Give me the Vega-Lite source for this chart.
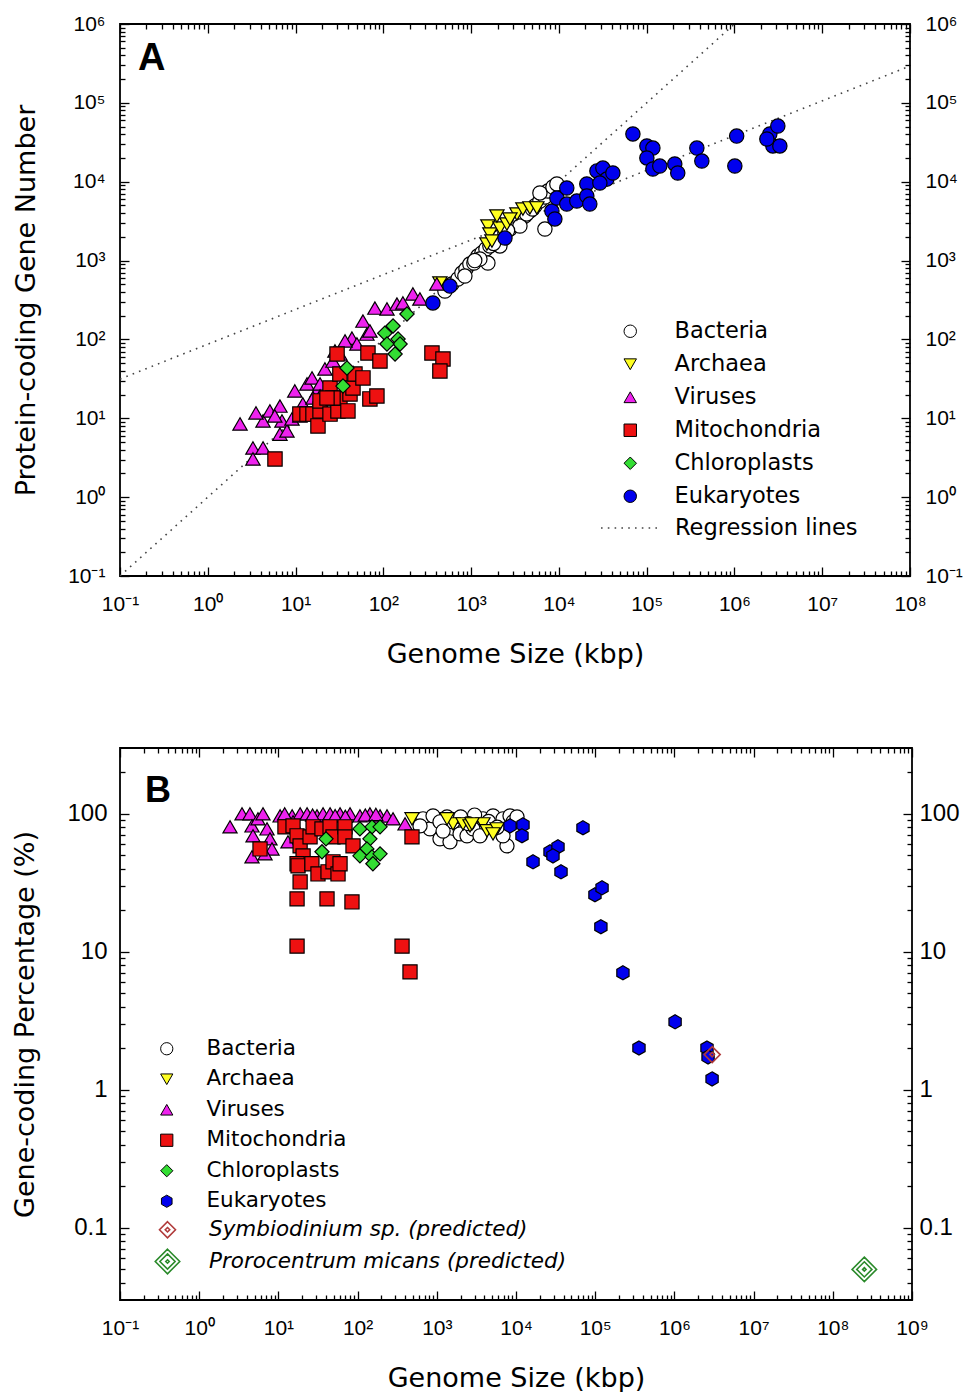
{
  "$schema": "https://vega.github.io/schema/vega-lite/v6.json",
  "background": "white",
  "padding": {"left": 11, "top": 12, "right": 0, "bottom": 0},
  "spacing": 78,
  "config": {
    "view": {"stroke": "black", "strokeWidth": 1.8},
    "axis": {
      "domain": false, "grid": false, "tickColor": "black", "tickWidth": 1.3,
      "labelColor": "black", "labelFont": "Liberation Sans", "labelFontSize": 21,
      "labelFlush": false, "labelOverlap": false, "labelBound": false,
      "titleFont": "DejaVu Sans", "titleFontSize": 27, "titleFontWeight": "normal", "titleColor": "black"
    },
    "legend": {"padding": 0, "labelColor": "black", "labelFont": "DejaVu Sans", "labelLimit": 0}
  },
  "resolve": {"scale": {"fill": "independent", "shape": "independent", "stroke": "independent", "size": "independent", "strokeDash": "independent"}},
  "datasets": {
    "regA": [
      {"line": "a", "kind": "Regression lines", "x": 0.1, "y": 31.5},
      {"line": "a", "kind": "Regression lines", "x": 100000000, "y": 293000},
      {"line": "b", "kind": "Regression lines", "x": 0.1, "y": 0.1},
      {"line": "b", "kind": "Regression lines", "x": 1000000, "y": 1000000}
    ],
    "ptsA": [
      {"g": "Bacteria", "x": 503, "y": 411}, {"g": "Bacteria", "x": 604, "y": 505}, {"g": "Bacteria", "x": 707, "y": 584},
      {"g": "Bacteria", "x": 786, "y": 695}, {"g": "Bacteria", "x": 873, "y": 781}, {"g": "Bacteria", "x": 968, "y": 904},
      {"g": "Bacteria", "x": 1076, "y": 931}, {"g": "Bacteria", "x": 1194, "y": 1142}, {"g": "Bacteria", "x": 1327, "y": 1248},
      {"g": "Bacteria", "x": 1474, "y": 1402}, {"g": "Bacteria", "x": 1637, "y": 1531}, {"g": "Bacteria", "x": 1916, "y": 1772},
      {"g": "Bacteria", "x": 2128, "y": 1991}, {"g": "Bacteria", "x": 2426, "y": 2235}, {"g": "Bacteria", "x": 2766, "y": 2512},
      {"g": "Bacteria", "x": 3155, "y": 2824}, {"g": "Bacteria", "x": 3597, "y": 3175}, {"g": "Bacteria", "x": 4100, "y": 3675},
      {"g": "Bacteria", "x": 4675, "y": 4250}, {"g": "Bacteria", "x": 5330, "y": 4920}, {"g": "Bacteria", "x": 6080, "y": 5690},
      {"g": "Bacteria", "x": 6930, "y": 6390}, {"g": "Bacteria", "x": 7500, "y": 7620}, {"g": "Bacteria", "x": 8550, "y": 8570},
      {"g": "Bacteria", "x": 9480, "y": 9360}, {"g": "Bacteria", "x": 6930, "y": 2512}, {"g": "Bacteria", "x": 6080, "y": 7200},
      {"g": "Bacteria", "x": 1553, "y": 931}, {"g": "Bacteria", "x": 1259, "y": 1047}, {"g": "Bacteria", "x": 849, "y": 637},
      {"g": "Bacteria", "x": 2128, "y": 1531}, {"g": "Bacteria", "x": 3597, "y": 2742}, {"g": "Bacteria", "x": 1100, "y": 1000},
      {"g": "Bacteria", "x": 1800, "y": 1650}, {"g": "Bacteria", "x": 2600, "y": 2400}, {"g": "Bacteria", "x": 4300, "y": 3900},
      {"g": "Bacteria", "x": 5000, "y": 4500},
      {"g": "Archaea", "x": 441, "y": 519}, {"g": "Archaea", "x": 1553, "y": 2742}, {"g": "Archaea", "x": 1514, "y": 1622},
      {"g": "Archaea", "x": 1637, "y": 2173}, {"g": "Archaea", "x": 2128, "y": 2588}, {"g": "Archaea", "x": 2557, "y": 2911},
      {"g": "Archaea", "x": 3325, "y": 3890}, {"g": "Archaea", "x": 3890, "y": 4505}, {"g": "Archaea", "x": 4675, "y": 4645},
      {"g": "Archaea", "x": 5610, "y": 4645}, {"g": "Archaea", "x": 1968, "y": 3675}, {"g": "Archaea", "x": 2766, "y": 3365},
      {"g": "Archaea", "x": 1726, "y": 1772},
      {"g": "Viruses", "x": 2.33, "y": 8.46}, {"g": "Viruses", "x": 3.27, "y": 4.2}, {"g": "Viruses", "x": 3.27, "y": 3.05},
      {"g": "Viruses", "x": 4.26, "y": 4.2}, {"g": "Viruses", "x": 4.26, "y": 9.25}, {"g": "Viruses", "x": 5.1, "y": 12.4},
      {"g": "Viruses", "x": 6.64, "y": 14.3}, {"g": "Viruses", "x": 7.0, "y": 9.25}, {"g": "Viruses", "x": 6.64, "y": 6.3},
      {"g": "Viruses", "x": 7.98, "y": 6.9}, {"g": "Viruses", "x": 9.1, "y": 9.8}, {"g": "Viruses", "x": 9.8, "y": 22.2},
      {"g": "Viruses", "x": 12.1, "y": 15.2}, {"g": "Viruses", "x": 13.5, "y": 27.2}, {"g": "Viruses", "x": 15.4, "y": 32.5},
      {"g": "Viruses", "x": 17.5, "y": 22.2}, {"g": "Viruses", "x": 19, "y": 27.2}, {"g": "Viruses", "x": 21.6, "y": 42.2},
      {"g": "Viruses", "x": 15.8, "y": 18.1}, {"g": "Viruses", "x": 26.7, "y": 53.2}, {"g": "Viruses", "x": 32, "y": 65.3},
      {"g": "Viruses", "x": 43.9, "y": 104}, {"g": "Viruses", "x": 50, "y": 87.5}, {"g": "Viruses", "x": 58.6, "y": 171},
      {"g": "Viruses", "x": 65, "y": 117}, {"g": "Viruses", "x": 70.3, "y": 128}, {"g": "Viruses", "x": 80.2, "y": 250},
      {"g": "Viruses", "x": 110, "y": 243}, {"g": "Viruses", "x": 143, "y": 281}, {"g": "Viruses", "x": 167, "y": 290},
      {"g": "Viruses", "x": 217, "y": 377}, {"g": "Viruses", "x": 261, "y": 326}, {"g": "Viruses", "x": 407, "y": 505},
      {"g": "Viruses", "x": 3.54, "y": 11.7}, {"g": "Viruses", "x": 5.8, "y": 10.7}, {"g": "Viruses", "x": 11.2, "y": 10.7},
      {"g": "Viruses", "x": 19, "y": 19.2}, {"g": "Viruses", "x": 36.6, "y": 95.5}, {"g": "Viruses", "x": 28.1, "y": 71.3},
      {"g": "Mitochondria", "x": 5.83, "y": 3.05}, {"g": "Mitochondria", "x": 11.2, "y": 11.3}, {"g": "Mitochondria", "x": 13.5, "y": 11.3},
      {"g": "Mitochondria", "x": 15.8, "y": 11.3}, {"g": "Mitochondria", "x": 19, "y": 12.4}, {"g": "Mitochondria", "x": 18, "y": 8.0},
      {"g": "Mitochondria", "x": 19, "y": 16.6}, {"g": "Mitochondria", "x": 24.7, "y": 24.2}, {"g": "Mitochondria", "x": 24.7, "y": 11.3},
      {"g": "Mitochondria", "x": 30.4, "y": 12.4}, {"g": "Mitochondria", "x": 32, "y": 18.1}, {"g": "Mitochondria", "x": 32, "y": 36.4},
      {"g": "Mitochondria", "x": 29.7, "y": 65.3}, {"g": "Mitochondria", "x": 39.5, "y": 12.4}, {"g": "Mitochondria", "x": 41.7, "y": 20.3},
      {"g": "Mitochondria", "x": 45.1, "y": 24.2}, {"g": "Mitochondria", "x": 47.5, "y": 36.4}, {"g": "Mitochondria", "x": 58.6, "y": 32.5},
      {"g": "Mitochondria", "x": 66.8, "y": 67.3}, {"g": "Mitochondria", "x": 70.3, "y": 17.6}, {"g": "Mitochondria", "x": 84.5, "y": 19.2},
      {"g": "Mitochondria", "x": 91.5, "y": 53.2}, {"g": "Mitochondria", "x": 358, "y": 67.3}, {"g": "Mitochondria", "x": 478, "y": 56.5},
      {"g": "Mitochondria", "x": 441, "y": 39.8}, {"g": "Mitochondria", "x": 26.7, "y": 18.1}, {"g": "Mitochondria", "x": 22.8, "y": 18.1},
      {"g": "Chloroplasts", "x": 38.5, "y": 43.4}, {"g": "Chloroplasts", "x": 34.7, "y": 25.6}, {"g": "Chloroplasts", "x": 104, "y": 120},
      {"g": "Chloroplasts", "x": 129, "y": 148}, {"g": "Chloroplasts", "x": 147, "y": 101}, {"g": "Chloroplasts", "x": 155, "y": 87.5},
      {"g": "Chloroplasts", "x": 136, "y": 65.3}, {"g": "Chloroplasts", "x": 186, "y": 210}, {"g": "Chloroplasts", "x": 110, "y": 87.5},
      {"g": "Eukaryotes", "x": 69700, "y": 40300}, {"g": "Eukaryotes", "x": 100500, "y": 28400}, {"g": "Eukaryotes", "x": 117700, "y": 26700},
      {"g": "Eukaryotes", "x": 100500, "y": 20000}, {"g": "Eukaryotes", "x": 117700, "y": 14500}, {"g": "Eukaryotes", "x": 141000, "y": 15800},
      {"g": "Eukaryotes", "x": 209000, "y": 16800}, {"g": "Eukaryotes", "x": 226000, "y": 12900}, {"g": "Eukaryotes", "x": 373000, "y": 26700},
      {"g": "Eukaryotes", "x": 425000, "y": 18300}, {"g": "Eukaryotes", "x": 1060000, "y": 37900}, {"g": "Eukaryotes", "x": 1010000, "y": 15800},
      {"g": "Eukaryotes", "x": 2530000, "y": 40300}, {"g": "Eukaryotes", "x": 3120000, "y": 50800}, {"g": "Eukaryotes", "x": 2740000, "y": 28400},
      {"g": "Eukaryotes", "x": 3290000, "y": 28400}, {"g": "Eukaryotes", "x": 2340000, "y": 34800}, {"g": "Eukaryotes", "x": 8320, "y": 4250},
      {"g": "Eukaryotes", "x": 9000, "y": 3370}, {"g": "Eukaryotes", "x": 9480, "y": 6210}, {"g": "Eukaryotes", "x": 12300, "y": 8320},
      {"g": "Eukaryotes", "x": 12300, "y": 5210}, {"g": "Eukaryotes", "x": 16000, "y": 5690}, {"g": "Eukaryotes", "x": 20800, "y": 9360},
      {"g": "Eukaryotes", "x": 20800, "y": 6590}, {"g": "Eukaryotes", "x": 22500, "y": 5210}, {"g": "Eukaryotes", "x": 27100, "y": 13700},
      {"g": "Eukaryotes", "x": 31700, "y": 14900}, {"g": "Eukaryotes", "x": 35200, "y": 10800}, {"g": "Eukaryotes", "x": 41200, "y": 12900},
      {"g": "Eukaryotes", "x": 29300, "y": 9620}, {"g": "Eukaryotes", "x": 2430, "y": 1930}, {"g": "Eukaryotes", "x": 574, "y": 475},
      {"g": "Eukaryotes", "x": 367, "y": 290}
    ],
    "ptsB": [
      {"g": "Bacteria", "x": 670, "y": 92}, {"g": "Bacteria", "x": 820, "y": 77.8}, {"g": "Bacteria", "x": 1097, "y": 65.9},
      {"g": "Bacteria", "x": 1468, "y": 62.7}, {"g": "Bacteria", "x": 896, "y": 96.7}, {"g": "Bacteria", "x": 1346, "y": 95.1},
      {"g": "Bacteria", "x": 1603, "y": 87.5}, {"g": "Bacteria", "x": 1965, "y": 71.6}, {"g": "Bacteria", "x": 2406, "y": 69.3},
      {"g": "Bacteria", "x": 2866, "y": 77.8}, {"g": "Bacteria", "x": 3833, "y": 92}, {"g": "Bacteria", "x": 5127, "y": 96.7},
      {"g": "Bacteria", "x": 6855, "y": 92}, {"g": "Bacteria", "x": 8400, "y": 96.7}, {"g": "Bacteria", "x": 9170, "y": 87.5},
      {"g": "Bacteria", "x": 7690, "y": 58.6}, {"g": "Bacteria", "x": 6855, "y": 69.3}, {"g": "Bacteria", "x": 3510, "y": 69.3},
      {"g": "Bacteria", "x": 1097, "y": 87.5}, {"g": "Bacteria", "x": 614, "y": 81.8}, {"g": "Bacteria", "x": 10300, "y": 95.1},
      {"g": "Bacteria", "x": 2000, "y": 95}, {"g": "Bacteria", "x": 3000, "y": 98}, {"g": "Bacteria", "x": 4500, "y": 88},
      {"g": "Bacteria", "x": 1200, "y": 75}, {"g": "Bacteria", "x": 2500, "y": 85}, {"g": "Bacteria", "x": 5800, "y": 80},
      {"g": "Archaea", "x": 486, "y": 92}, {"g": "Archaea", "x": 1603, "y": 84.6}, {"g": "Archaea", "x": 2143, "y": 84.6},
      {"g": "Archaea", "x": 2625, "y": 81.8}, {"g": "Archaea", "x": 3833, "y": 84.6}, {"g": "Archaea", "x": 4305, "y": 75.3},
      {"g": "Archaea", "x": 5755, "y": 77.8}, {"g": "Archaea", "x": 1346, "y": 92}, {"g": "Archaea", "x": 2780, "y": 84.6},
      {"g": "Archaea", "x": 5127, "y": 71.6},
      {"g": "Viruses", "x": 2.45, "y": 80.5}, {"g": "Viruses", "x": 3.47, "y": 100}, {"g": "Viruses", "x": 4.37, "y": 100},
      {"g": "Viruses", "x": 4.64, "y": 81.8}, {"g": "Viruses", "x": 4.78, "y": 69.3}, {"g": "Viruses", "x": 5.52, "y": 92},
      {"g": "Viruses", "x": 6.39, "y": 100}, {"g": "Viruses", "x": 7.18, "y": 77.8}, {"g": "Viruses", "x": 7.83, "y": 65.9},
      {"g": "Viruses", "x": 8.3, "y": 55.7}, {"g": "Viruses", "x": 4.64, "y": 48.8}, {"g": "Viruses", "x": 6.78, "y": 51.3},
      {"g": "Viruses", "x": 10.5, "y": 96.7}, {"g": "Viruses", "x": 14.9, "y": 96.7}, {"g": "Viruses", "x": 18.8, "y": 100},
      {"g": "Viruses", "x": 23, "y": 100}, {"g": "Viruses", "x": 30.7, "y": 96.7}, {"g": "Viruses", "x": 36.6, "y": 100},
      {"g": "Viruses", "x": 44.9, "y": 100}, {"g": "Viruses", "x": 60, "y": 100}, {"g": "Viruses", "x": 80.2, "y": 100},
      {"g": "Viruses", "x": 107, "y": 96.7}, {"g": "Viruses", "x": 143, "y": 100}, {"g": "Viruses", "x": 192, "y": 96.7},
      {"g": "Viruses", "x": 235, "y": 96.7}, {"g": "Viruses", "x": 280, "y": 92}, {"g": "Viruses", "x": 397, "y": 84.6},
      {"g": "Viruses", "x": 13.2, "y": 62.7}, {"g": "Viruses", "x": 15.3, "y": 87.5}, {"g": "Viruses", "x": 12, "y": 100},
      {"g": "Viruses", "x": 27, "y": 98}, {"g": "Viruses", "x": 52, "y": 97}, {"g": "Viruses", "x": 70, "y": 96},
      {"g": "Viruses", "x": 125, "y": 98}, {"g": "Viruses", "x": 170, "y": 99},
      {"g": "Mitochondria", "x": 5.86, "y": 55.7}, {"g": "Mitochondria", "x": 12.1, "y": 80.5}, {"g": "Mitochondria", "x": 15.3, "y": 81.8},
      {"g": "Mitochondria", "x": 17.2, "y": 69.3}, {"g": "Mitochondria", "x": 18.8, "y": 58.6}, {"g": "Mitochondria", "x": 20.5, "y": 49.6},
      {"g": "Mitochondria", "x": 17.2, "y": 43.5}, {"g": "Mitochondria", "x": 17.7, "y": 42}, {"g": "Mitochondria", "x": 25.1, "y": 68.1},
      {"g": "Mitochondria", "x": 27.4, "y": 80.5}, {"g": "Mitochondria", "x": 35.5, "y": 77.8}, {"g": "Mitochondria", "x": 44.9, "y": 80.5},
      {"g": "Mitochondria", "x": 48.9, "y": 68.1}, {"g": "Mitochondria", "x": 69.3, "y": 80.5}, {"g": "Mitochondria", "x": 69.3, "y": 68.1},
      {"g": "Mitochondria", "x": 87.5, "y": 58.6}, {"g": "Mitochondria", "x": 26.5, "y": 43.5}, {"g": "Mitochondria", "x": 31.6, "y": 36.7},
      {"g": "Mitochondria", "x": 42.3, "y": 38}, {"g": "Mitochondria", "x": 48.9, "y": 44.9}, {"g": "Mitochondria", "x": 56.6, "y": 36.7},
      {"g": "Mitochondria", "x": 60, "y": 43.5}, {"g": "Mitochondria", "x": 18.8, "y": 32.1}, {"g": "Mitochondria", "x": 17.2, "y": 24.2},
      {"g": "Mitochondria", "x": 41.1, "y": 24.2}, {"g": "Mitochondria", "x": 84.9, "y": 23}, {"g": "Mitochondria", "x": 486, "y": 68.1},
      {"g": "Mitochondria", "x": 17.2, "y": 11}, {"g": "Mitochondria", "x": 364, "y": 11}, {"g": "Mitochondria", "x": 459, "y": 7.16},
      {"g": "Chloroplasts", "x": 39.9, "y": 65.9}, {"g": "Chloroplasts", "x": 35.5, "y": 53.1}, {"g": "Chloroplasts", "x": 107, "y": 77.8},
      {"g": "Chloroplasts", "x": 152, "y": 80.5}, {"g": "Chloroplasts", "x": 192, "y": 80.5}, {"g": "Chloroplasts", "x": 143, "y": 65.9},
      {"g": "Chloroplasts", "x": 131, "y": 55.7}, {"g": "Chloroplasts", "x": 107, "y": 49.6}, {"g": "Chloroplasts", "x": 152, "y": 48.8},
      {"g": "Chloroplasts", "x": 192, "y": 51.3}, {"g": "Chloroplasts", "x": 156, "y": 43.5},
      {"g": "Eukaryotes", "x": 8400, "y": 81.8}, {"g": "Eukaryotes", "x": 12250, "y": 83.2}, {"g": "Eukaryotes", "x": 11900, "y": 69.3},
      {"g": "Eukaryotes", "x": 16400, "y": 44.9}, {"g": "Eukaryotes", "x": 26900, "y": 53.1}, {"g": "Eukaryotes", "x": 33900, "y": 57.7},
      {"g": "Eukaryotes", "x": 29300, "y": 49.6}, {"g": "Eukaryotes", "x": 37000, "y": 38}, {"g": "Eukaryotes", "x": 70100, "y": 79.2},
      {"g": "Eukaryotes", "x": 99300, "y": 25.9}, {"g": "Eukaryotes", "x": 122000, "y": 29.1}, {"g": "Eukaryotes", "x": 118000, "y": 15.2},
      {"g": "Eukaryotes", "x": 224000, "y": 7.05}, {"g": "Eukaryotes", "x": 1020000, "y": 3.11}, {"g": "Eukaryotes", "x": 357000, "y": 2.01},
      {"g": "Eukaryotes", "x": 2580000, "y": 2.01}, {"g": "Eukaryotes", "x": 2660000, "y": 1.73}, {"g": "Eukaryotes", "x": 2990000, "y": 1.2}
    ],
    "predB": [
      {"s": "Symbiodinium sp. (predicted)", "x": 3000000, "y": 1.8},
      {"s": "Prorocentrum micans (predicted)", "x": 250000000, "y": 0.05}
    ]
  },
  "vconcat": [
    {
      "width": 790,
      "height": 552,
      "title": {"text": "A", "anchor": "start", "frame": "group", "orient": "top", "baseline": "top", "offset": -65, "dx": 18, "font": "Liberation Sans", "fontSize": 38, "fontWeight": "bold", "color": "black"},
      "layer": [
        {
          "data": {"name": "regA"},
          "mark": {"type": "line", "color": "#444", "strokeWidth": 1.6, "clip": true},
          "encoding": {
            "x": {"field": "x", "type": "quantitative", "scale": {"type": "log", "domain": [0.1, 100000000], "nice": false},
              "axis": {"orient": "bottom", "values": [0.1,0.2,0.3,0.4,0.5,0.6,0.7,0.8,0.9,1,2,3,4,5,6,7,8,9,10,20,30,40,50,60,70,80,90,100,200,300,400,500,600,700,800,900,1000,2000,3000,4000,5000,6000,7000,8000,9000,10000,20000,30000,40000,50000,60000,70000,80000,90000,100000,200000,300000,400000,500000,600000,700000,800000,900000,1000000,2000000,3000000,4000000,5000000,6000000,7000000,8000000,9000000,10000000,20000000,30000000,40000000,50000000,60000000,70000000,80000000,90000000,100000000],
                "tickSize": {"condition": {"test": "abs(log(datum.value)/LN10 - round(log(datum.value)/LN10)) < 0.001", "value": -9}, "value": -5},
                "labelExpr": "abs(log(datum.value)/LN10 - round(log(datum.value)/LN10)) < 0.001 ? '10' + (round(log(datum.value)/LN10) < 0 ? '⁻' : '') + substring('⁰¹²³⁴⁵⁶⁷⁸⁹', abs(round(log(datum.value)/LN10)), abs(round(log(datum.value)/LN10)) + 1) : ''",
                "labelPadding": 26, "title": "Genome Size (kbp)", "titlePadding": 23}},
            "y": {"field": "y", "type": "quantitative", "scale": {"type": "log", "domain": [0.1, 1000000], "nice": false},
              "axis": {"orient": "left", "values": [0.1,0.2,0.3,0.4,0.5,0.6,0.7,0.8,0.9,1,2,3,4,5,6,7,8,9,10,20,30,40,50,60,70,80,90,100,200,300,400,500,600,700,800,900,1000,2000,3000,4000,5000,6000,7000,8000,9000,10000,20000,30000,40000,50000,60000,70000,80000,90000,100000,200000,300000,400000,500000,600000,700000,800000,900000,1000000],
                "tickSize": {"condition": {"test": "abs(log(datum.value)/LN10 - round(log(datum.value)/LN10)) < 0.001", "value": -9}, "value": -5},
                "labelExpr": "abs(log(datum.value)/LN10 - round(log(datum.value)/LN10)) < 0.001 ? '10' + (round(log(datum.value)/LN10) < 0 ? '⁻' : '') + substring('⁰¹²³⁴⁵⁶⁷⁸⁹', abs(round(log(datum.value)/LN10)), abs(round(log(datum.value)/LN10)) + 1) : ''",
                "labelPadding": 24, "title": "Protein-coding Gene Number", "titlePadding": 27}},
            "detail": {"field": "line"},
            "strokeDash": {"field": "kind", "type": "nominal", "scale": {"domain": ["Regression lines"], "range": [[1.6, 5.2]]},
              "legend": {"orient": "none", "legendX": 480, "legendY": 473, "title": null, "labelFontSize": 22.5, "symbolType": "stroke", "symbolSize": 3600, "symbolStrokeColor": "#444", "symbolStrokeWidth": 1.6, "labelOffset": 13}}
          }
        },
        {
          "data": {"name": "ptsA"},
          "mark": {"type": "point", "filled": true, "strokeWidth": 1.2, "size": 205, "opacity": 1},
          "encoding": {
            "x": {"field": "x", "type": "quantitative", "scale": {"type": "log", "domain": [0.1, 100000000], "nice": false},
              "axis": {"orient": "top", "values": [0.1,0.2,0.3,0.4,0.5,0.6,0.7,0.8,0.9,1,2,3,4,5,6,7,8,9,10,20,30,40,50,60,70,80,90,100,200,300,400,500,600,700,800,900,1000,2000,3000,4000,5000,6000,7000,8000,9000,10000,20000,30000,40000,50000,60000,70000,80000,90000,100000,200000,300000,400000,500000,600000,700000,800000,900000,1000000,2000000,3000000,4000000,5000000,6000000,7000000,8000000,9000000,10000000,20000000,30000000,40000000,50000000,60000000,70000000,80000000,90000000,100000000],
                "tickSize": {"condition": {"test": "abs(log(datum.value)/LN10 - round(log(datum.value)/LN10)) < 0.001", "value": -9}, "value": -5},
                "labels": false, "title": null}},
            "y": {"field": "y", "type": "quantitative", "scale": {"type": "log", "domain": [0.1, 1000000], "nice": false},
              "axis": {"orient": "right", "values": [0.1,0.2,0.3,0.4,0.5,0.6,0.7,0.8,0.9,1,2,3,4,5,6,7,8,9,10,20,30,40,50,60,70,80,90,100,200,300,400,500,600,700,800,900,1000,2000,3000,4000,5000,6000,7000,8000,9000,10000,20000,30000,40000,50000,60000,70000,80000,90000,100000,200000,300000,400000,500000,600000,700000,800000,900000,1000000],
                "tickSize": {"condition": {"test": "abs(log(datum.value)/LN10 - round(log(datum.value)/LN10)) < 0.001", "value": -9}, "value": -5},
                "labelExpr": "abs(log(datum.value)/LN10 - round(log(datum.value)/LN10)) < 0.001 ? '10' + (round(log(datum.value)/LN10) < 0 ? '⁻' : '') + substring('⁰¹²³⁴⁵⁶⁷⁸⁹', abs(round(log(datum.value)/LN10)), abs(round(log(datum.value)/LN10)) + 1) : ''",
                "labelPadding": 24, "title": null}},
            "shape": {"field": "g", "type": "nominal",
              "scale": {"domain": ["Bacteria", "Archaea", "Viruses", "Mitochondria", "Chloroplasts", "Eukaryotes"], "range": ["circle", "triangle-down", "triangle-up", "square", "diamond", "circle"]},
              "legend": {"orient": "none", "legendX": 499, "legendY": 296, "title": null, "labelFontSize": 22.5, "symbolSize": 155, "symbolStrokeWidth": 1, "labelOffset": 33, "rowPadding": 10}},
            "fill": {"field": "g", "type": "nominal",
              "scale": {"domain": ["Bacteria", "Archaea", "Viruses", "Mitochondria", "Chloroplasts", "Eukaryotes"], "range": ["#ffffff", "#ffff22", "#ee22ee", "#ee1111", "#33dd33", "#0000ee"]},
              "legend": {"orient": "none", "legendX": 499, "legendY": 296, "title": null, "labelFontSize": 22.5, "symbolSize": 155, "symbolStrokeWidth": 1, "labelOffset": 33, "rowPadding": 10}},
            "stroke": {"field": "g", "type": "nominal",
              "scale": {"domain": ["Bacteria", "Archaea", "Viruses", "Mitochondria", "Chloroplasts", "Eukaryotes"], "range": ["#000000", "#000000", "#000000", "#000000", "#000000", "#000000"]},
              "legend": {"orient": "none", "legendX": 499, "legendY": 296, "title": null, "labelFontSize": 22.5, "symbolSize": 155, "symbolStrokeWidth": 1, "labelOffset": 33, "rowPadding": 10}}
          }
        }
      ],
      "resolve": {"axis": {"x": "independent", "y": "independent"}}
    },
    {
      "width": 792,
      "height": 552,
      "title": {"text": "B", "anchor": "start", "frame": "group", "orient": "top", "baseline": "top", "offset": -63, "dx": 25, "font": "Liberation Sans", "fontSize": 36, "fontWeight": "bold", "color": "black"},
      "layer": [
        {
          "data": {"name": "ptsB"},
          "mark": {"type": "point", "filled": true, "strokeWidth": 1.2, "size": 200, "opacity": 1},
          "encoding": {
            "x": {"field": "x", "type": "quantitative", "scale": {"type": "log", "domain": [0.1, 1000000000], "nice": false},
              "axis": {"orient": "bottom", "values": [0.1,0.2,0.3,0.4,0.5,0.6,0.7,0.8,0.9,1,2,3,4,5,6,7,8,9,10,20,30,40,50,60,70,80,90,100,200,300,400,500,600,700,800,900,1000,2000,3000,4000,5000,6000,7000,8000,9000,10000,20000,30000,40000,50000,60000,70000,80000,90000,100000,200000,300000,400000,500000,600000,700000,800000,900000,1000000,2000000,3000000,4000000,5000000,6000000,7000000,8000000,9000000,10000000,20000000,30000000,40000000,50000000,60000000,70000000,80000000,90000000,100000000,200000000,300000000,400000000,500000000,600000000,700000000,800000000,900000000,1000000000],
                "tickSize": {"condition": {"test": "abs(log(datum.value)/LN10 - round(log(datum.value)/LN10)) < 0.001", "value": -9}, "value": -5},
                "labelExpr": "abs(log(datum.value)/LN10 - round(log(datum.value)/LN10)) < 0.001 ? '10' + (round(log(datum.value)/LN10) < 0 ? '⁻' : '') + substring('⁰¹²³⁴⁵⁶⁷⁸⁹', abs(round(log(datum.value)/LN10)), abs(round(log(datum.value)/LN10)) + 1) : ''",
                "labelPadding": 26, "title": "Genome Size (kbp)", "titlePadding": 23}},
            "y": {"field": "y", "type": "quantitative", "scale": {"type": "log", "domain": [0.03, 300], "nice": false},
              "axis": {"orient": "left", "values": [0.04,0.05,0.06,0.07,0.08,0.09,0.1,0.2,0.3,0.4,0.5,0.6,0.7,0.8,0.9,1,2,3,4,5,6,7,8,9,10,20,30,40,50,60,70,80,90,100,200],
                "tickSize": {"condition": {"test": "abs(log(datum.value)/LN10 - round(log(datum.value)/LN10)) < 0.001", "value": -9}, "value": -5},
                "labelExpr": "abs(log(datum.value)/LN10 - round(log(datum.value)/LN10)) < 0.001 ? (datum.value < 1 ? '0.1' : format(datum.value, 'd')) : ''",
                "labelFontSize": 24, "labelPadding": 22, "title": "Gene-coding Percentage (%)", "titlePadding": 27}},
            "shape": {"field": "g", "type": "nominal",
              "scale": {"domain": ["Bacteria", "Archaea", "Viruses", "Mitochondria", "Chloroplasts", "Eukaryotes"], "range": ["circle", "triangle-down", "triangle-up", "square", "diamond", "M0,-1L0.866,-0.5L0.866,0.5L0,1L-0.866,0.5L-0.866,-0.5Z"]},
              "legend": {"orient": "none", "legendX": 36, "legendY": 290, "title": null, "labelFontSize": 21.5, "symbolSize": 150, "symbolStrokeWidth": 1, "labelOffset": 29, "rowPadding": 7.5}},
            "fill": {"field": "g", "type": "nominal",
              "scale": {"domain": ["Bacteria", "Archaea", "Viruses", "Mitochondria", "Chloroplasts", "Eukaryotes"], "range": ["#ffffff", "#ffff22", "#ee22ee", "#ee1111", "#33dd33", "#0000ee"]},
              "legend": {"orient": "none", "legendX": 36, "legendY": 290, "title": null, "labelFontSize": 21.5, "symbolSize": 150, "symbolStrokeWidth": 1, "labelOffset": 29, "rowPadding": 7.5}},
            "stroke": {"field": "g", "type": "nominal",
              "scale": {"domain": ["Bacteria", "Archaea", "Viruses", "Mitochondria", "Chloroplasts", "Eukaryotes"], "range": ["#000000", "#000000", "#000000", "#000000", "#000000", "#000000"]},
              "legend": {"orient": "none", "legendX": 36, "legendY": 290, "title": null, "labelFontSize": 21.5, "symbolSize": 150, "symbolStrokeWidth": 1, "labelOffset": 29, "rowPadding": 7.5}}
          }
        },
        {
          "data": {"name": "predB"},
          "mark": {"type": "point", "filled": false, "strokeWidth": 1.6, "opacity": 1},
          "encoding": {
            "x": {"field": "x", "type": "quantitative", "scale": {"type": "log", "domain": [0.1, 1000000000], "nice": false},
              "axis": {"orient": "top", "values": [0.1,0.2,0.3,0.4,0.5,0.6,0.7,0.8,0.9,1,2,3,4,5,6,7,8,9,10,20,30,40,50,60,70,80,90,100,200,300,400,500,600,700,800,900,1000,2000,3000,4000,5000,6000,7000,8000,9000,10000,20000,30000,40000,50000,60000,70000,80000,90000,100000,200000,300000,400000,500000,600000,700000,800000,900000,1000000,2000000,3000000,4000000,5000000,6000000,7000000,8000000,9000000,10000000,20000000,30000000,40000000,50000000,60000000,70000000,80000000,90000000,100000000,200000000,300000000,400000000,500000000,600000000,700000000,800000000,900000000,1000000000],
                "tickSize": {"condition": {"test": "abs(log(datum.value)/LN10 - round(log(datum.value)/LN10)) < 0.001", "value": -9}, "value": -5},
                "labels": false, "title": null}},
            "y": {"field": "y", "type": "quantitative", "scale": {"type": "log", "domain": [0.03, 300], "nice": false},
              "axis": {"orient": "right", "values": [0.04,0.05,0.06,0.07,0.08,0.09,0.1,0.2,0.3,0.4,0.5,0.6,0.7,0.8,0.9,1,2,3,4,5,6,7,8,9,10,20,30,40,50,60,70,80,90,100,200],
                "tickSize": {"condition": {"test": "abs(log(datum.value)/LN10 - round(log(datum.value)/LN10)) < 0.001", "value": -9}, "value": -5},
                "labelExpr": "abs(log(datum.value)/LN10 - round(log(datum.value)/LN10)) < 0.001 ? (datum.value < 1 ? '0.1' : format(datum.value, 'd')) : ''",
                "labelFontSize": 24, "labelPadding": 16, "title": null}},
            "shape": {"field": "s", "type": "nominal",
              "scale": {"domain": ["Symbiodinium sp. (predicted)", "Prorocentrum micans (predicted)"], "range": ["M0,-1L1,0L0,1L-1,0ZM0,-0.28L0.28,0L0,0.28L-0.28,0Z", "M0,-1L1,0L0,1L-1,0ZM0,-0.62L0.62,0L0,0.62L-0.62,0ZM0,-0.14L0.14,0L0,0.14L-0.14,0Z"]},
              "legend": {"orient": "none", "legendX": 34, "legendY": 471, "title": null, "labelFontSize": 21.5, "labelFontStyle": "italic", "symbolFillColor": "transparent", "symbolStrokeWidth": 1.6, "labelOffset": 28, "rowPadding": 5}},
            "stroke": {"field": "s", "type": "nominal",
              "scale": {"domain": ["Symbiodinium sp. (predicted)", "Prorocentrum micans (predicted)"], "range": ["#b03a3a", "#2a8a2a"]},
              "legend": {"orient": "none", "legendX": 34, "legendY": 471, "title": null, "labelFontSize": 21.5, "labelFontStyle": "italic", "symbolFillColor": "transparent", "symbolStrokeWidth": 1.6, "labelOffset": 28, "rowPadding": 5}},
            "size": {"field": "s", "type": "nominal",
              "scale": {"domain": ["Symbiodinium sp. (predicted)", "Prorocentrum micans (predicted)"], "range": [256, 600]},
              "legend": {"orient": "none", "legendX": 34, "legendY": 471, "title": null, "labelFontSize": 21.5, "labelFontStyle": "italic", "symbolFillColor": "transparent", "symbolStrokeWidth": 1.6, "labelOffset": 28, "rowPadding": 5}}
          }
        }
      ],
      "resolve": {"axis": {"x": "independent", "y": "independent"}, "scale": {"shape": "independent", "fill": "independent", "stroke": "independent", "size": "independent"}}
    }
  ]
}
